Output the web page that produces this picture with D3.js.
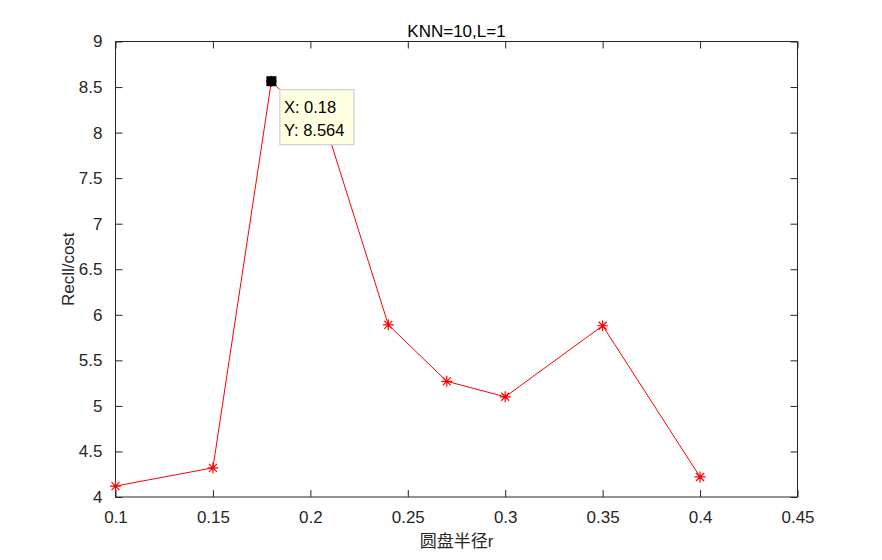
<!DOCTYPE html>
<html><head><meta charset="utf-8">
<script src="https://cdn.jsdelivr.net/npm/d3@7"></script>
<style>
body{margin:0;background:#fff;}
text{font-family:"Liberation Sans",Arial,"Noto Sans CJK SC",sans-serif;}
</style></head>
<body><svg id="c" width="882" height="560"></svg>
<script>
const radius = [0.1, 0.15, 0.18, 0.21, 0.24, 0.27, 0.3, 0.35, 0.4];
const ratio = [4.12, 4.32, 8.564, 7.93, 5.89, 5.27, 5.10, 5.88, 4.22];
const xTicks = [0.1, 0.15, 0.2, 0.25, 0.3, 0.35, 0.4, 0.45];
const yTicks = [4, 4.5, 5, 5.5, 6, 6.5, 7, 7.5, 8, 8.5, 9];
const title = "KNN=10,L=1";
const xLabel = "圆盘半径r";
const yLabel = "Recll/cost";
const tipIndex = 2;

const svg = d3.select("#c");
const L = 115.5, R = 797.5, T = 41.5, B = 497;
const x = d3.scaleLinear().domain([0.1, 0.45]).range([L, R]);
const y = d3.scaleLinear().domain([4, 9]).range([B, T]);
const tc = "#262626", tl = 7, fs = "17px";

svg.append("rect").attr("x", L).attr("y", T).attr("width", R - L).attr("height", B - T)
  .attr("fill", "#fff").attr("stroke", tc).attr("stroke-width", 1);

const fmt = d => String(d);
const xa = svg.append("g").attr("transform", `translate(0,${B})`)
  .call(d3.axisBottom(x).tickValues(xTicks).tickFormat(fmt).tickSize(-tl).tickPadding(tl + 7));
const xt = svg.append("g").attr("transform", `translate(0,${T})`)
  .call(d3.axisTop(x).tickValues(xTicks).tickFormat("").tickSize(-tl));
const ya = svg.append("g").attr("transform", `translate(${L},0)`)
  .call(d3.axisLeft(y).tickValues(yTicks).tickFormat(fmt).tickSize(-tl).tickPadding(tl + 6));
const yr = svg.append("g").attr("transform", `translate(${R},0)`)
  .call(d3.axisRight(y).tickValues(yTicks).tickFormat("").tickSize(-tl));
[xa, xt, ya, yr].forEach(g => {
  g.select(".domain").remove();
  g.selectAll("line").attr("stroke", tc);
  g.selectAll("text").attr("fill", tc).style("font-size", fs);
});

svg.append("text").attr("x", (L + R) / 2).attr("y", 37).attr("text-anchor", "middle")
  .attr("fill", "#000").style("font-size", fs).text(title);
svg.append("text").attr("x", (L + R) / 2).attr("y", 547).attr("text-anchor", "middle")
  .attr("fill", tc).style("font-size", fs).text(xLabel);
svg.append("text").attr("transform", `translate(74,${(T + B) / 2}) rotate(-90)`).attr("text-anchor", "middle")
  .attr("fill", tc).style("font-size", fs).text(yLabel);

const line = d3.line().x((d, i) => x(radius[i])).y(d => y(d));
svg.append("path").datum(ratio).attr("d", line).attr("fill", "none").attr("stroke", "#ff0000").attr("stroke-width", 1);

const s = 5.5, s2 = 4;
const star = `M${-s},0L${s},0M0,${-s}L0,${s}M${-s2},${-s2}L${s2},${s2}M${-s2},${s2}L${s2},${-s2}`;
svg.selectAll(".m").data(ratio).enter().append("path")
  .attr("transform", (d, i) => `translate(${x(radius[i])},${y(d)})`)
  .attr("d", star).attr("stroke", "#ff0000").attr("stroke-width", 1.2).attr("fill", "none");

// data tip
const px = x(radius[tipIndex]), py = y(ratio[tipIndex]);
svg.append("rect").attr("x", px - 5).attr("y", py - 5).attr("width", 10).attr("height", 10).attr("fill", "#000");
const tip = svg.append("g").attr("transform", `translate(${px + 8.5},${py + 8.5})`);
tip.append("rect").attr("width", 74).attr("height", 55).attr("fill", "#ffffe1").attr("stroke", "#c8c8c8").attr("stroke-width", 1);
tip.append("text").attr("x", 4).attr("y", 23).attr("fill", "#000").style("font-size", "16.5px").text("X: " + radius[tipIndex]);
tip.append("text").attr("x", 4).attr("y", 46).attr("fill", "#000").style("font-size", "16.5px").text("Y: " + ratio[tipIndex]);
</script></body></html>
